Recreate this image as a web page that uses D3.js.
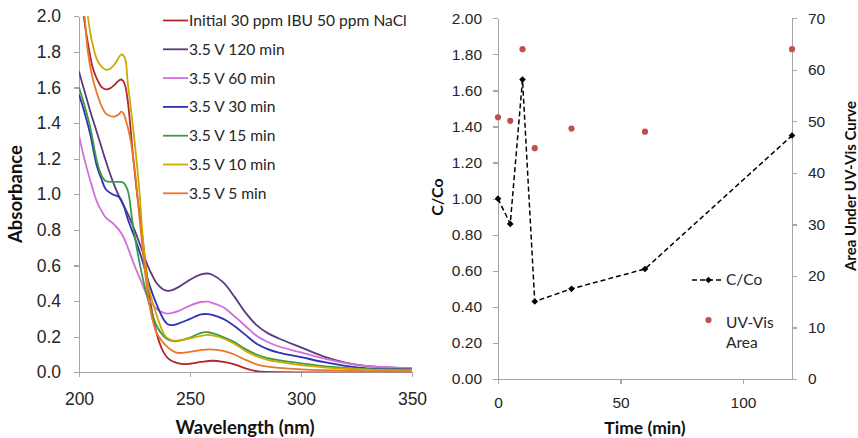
<!DOCTYPE html>
<html>
<head>
<meta charset="utf-8">
<script src="https://cdn.jsdelivr.net/npm/d3@7"></script>
<style>
  html, body { margin: 0; padding: 0; background: #fff; }
  svg { display: block; font-family: Lato, "Open Sans", sans-serif; }
  .axis path, .axis line { stroke: #a6a6a6; stroke-width: 1.2; shape-rendering: crispEdges; }
  .axis text { fill: #262626; }
</style>
</head>
<body>
<svg id="chart" width="858" height="438"></svg>
<script>
// ---- Absorbance spectra, [wavelength nm, absorbance] ----
const specInitial = [[200,2.45],[202,2.02],[204,1.85],[206,1.72],[208,1.65],[210,1.605],[212,1.59],[214,1.595],[216,1.615],[218,1.64],[219,1.645],[220,1.635],[221,1.60],[222,1.52],[223,1.40],[224,1.26],[226,1.02],[228,0.82],[230,0.61],[232,0.41],[234,0.27],[236,0.175],[238,0.115],[240,0.08],[243,0.057],[247,0.046],[250,0.048],[255,0.058],[260,0.065],[265,0.059],[270,0.045],[275,0.022],[280,0.006],[285,0.002],[290,0.001],[300,0],[350,0]];
const spec120 = [[200,1.69],[202,1.60],[205,1.47],[208,1.35],[210,1.27],[212,1.19],[215,1.08],[218,0.99],[220,0.94],[222,0.89],[225,0.80],[228,0.70],[230,0.63],[232,0.57],[235,0.50],[238,0.465],[240,0.458],[242,0.462],[245,0.48],[250,0.52],[255,0.55],[258,0.555],[260,0.548],[265,0.505],[270,0.425],[275,0.335],[280,0.265],[285,0.22],[290,0.19],[300,0.14],[310,0.09],[320,0.055],[330,0.035],[340,0.027],[350,0.022]];
const spec60 = [[200,1.33],[202,1.22],[205,1.08],[208,0.96],[210,0.91],[212,0.87],[215,0.84],[218,0.80],[220,0.76],[222,0.70],[225,0.60],[228,0.51],[230,0.45],[232,0.40],[235,0.355],[238,0.335],[240,0.33],[245,0.345],[250,0.375],[255,0.395],[258,0.397],[260,0.39],[265,0.365],[270,0.315],[275,0.26],[280,0.205],[285,0.17],[290,0.145],[300,0.112],[310,0.078],[320,0.052],[330,0.035],[340,0.028],[350,0.025]];
const spec30 = [[200,1.56],[202,1.48],[205,1.34],[208,1.16],[210,1.09],[212,1.03],[215,1.00],[218,0.985],[220,0.94],[222,0.86],[225,0.76],[228,0.65],[230,0.565],[232,0.48],[235,0.38],[238,0.30],[240,0.27],[242,0.265],[245,0.275],[250,0.30],[255,0.325],[258,0.327],[260,0.322],[265,0.30],[270,0.26],[275,0.21],[280,0.16],[285,0.13],[290,0.11],[300,0.085],[310,0.058],[320,0.036],[330,0.022],[340,0.017],[350,0.015]];
const spec15 = [[200,1.60],[202,1.52],[205,1.38],[208,1.19],[210,1.11],[212,1.075],[215,1.07],[218,1.07],[220,1.065],[222,1.02],[224,0.85],[226,0.70],[228,0.57],[230,0.46],[232,0.37],[235,0.26],[238,0.205],[240,0.185],[243,0.175],[245,0.178],[250,0.195],[255,0.222],[258,0.225],[260,0.22],[265,0.198],[270,0.17],[275,0.13],[280,0.10],[285,0.08],[290,0.068],[300,0.05],[310,0.035],[320,0.025],[330,0.018],[340,0.016],[350,0.015]];
const spec10 = [[200,2.6],[202,2.3],[204,2.0],[206,1.85],[208,1.76],[210,1.72],[212,1.70],[214,1.705],[216,1.73],[218,1.77],[219,1.785],[220,1.78],[221,1.75],[222,1.62],[223,1.52],[225,1.30],[227,1.05],[229,0.72],[231,0.50],[233,0.40],[235,0.32],[237,0.25],[239,0.20],[242,0.18],[245,0.178],[250,0.19],[255,0.205],[258,0.21],[260,0.207],[265,0.19],[270,0.16],[275,0.12],[280,0.09],[285,0.07],[290,0.058],[300,0.04],[310,0.028],[320,0.02],[330,0.015],[340,0.012],[350,0.01]];
const spec5 = [[200,2.5],[202,2.1],[204,1.80],[206,1.66],[208,1.57],[210,1.50],[212,1.455],[214,1.44],[216,1.436],[218,1.45],[219,1.464],[220,1.455],[221,1.42],[223,1.32],[225,1.15],[227,0.90],[229,0.65],[231,0.44],[233,0.30],[235,0.22],[238,0.165],[240,0.14],[244,0.11],[250,0.115],[255,0.125],[259,0.129],[265,0.12],[270,0.10],[275,0.07],[280,0.045],[285,0.032],[290,0.025],[300,0.017],[310,0.012],[320,0.009],[330,0.007],[340,0.006],[350,0.005]];

const seriesNames = ["Initial 30 ppm IBU 50 ppm NaCl","3.5 V 120 min","3.5 V 60 min","3.5 V 30 min","3.5 V 15 min","3.5 V 10 min","3.5 V 5 min"];
const seriesData = [specInitial, spec120, spec60, spec30, spec15, spec10, spec5];
const seriesColors = ["#b3262b","#5b3a80","#d070d8","#2e31b5","#3a9a48","#ccaa00","#e8782a"];

const wavelengthTicks = [200, 250, 300, 350];
const absorbanceTicks = [0, 0.2, 0.4, 0.6, 0.8, 1.0, 1.2, 1.4, 1.6, 1.8, 2.0];

// ---- Degradation over time ----
const timeMin = [0, 5, 10, 15, 30, 60, 120];
const cOverCo = [1.00, 0.86, 1.66, 0.43, 0.50, 0.61, 1.35];
const uvVisArea = [50.8, 50.1, 64.0, 44.8, 48.6, 48.0, 64.0];
const timeTicks = [0, 50, 100];
const ratioTicks = [0, 0.2, 0.4, 0.6, 0.8, 1.0, 1.2, 1.4, 1.6, 1.8, 2.0];
const areaTicks = [0, 10, 20, 30, 40, 50, 60, 70];

const svg = d3.select("#chart");

// ===== Left panel: spectra =====
const xW = d3.scaleLinear().domain([200, 350]).range([79, 412]);
const yA = d3.scaleLinear().domain([0, 2]).range([372.3, 16.3]);

svg.append("defs").append("clipPath").attr("id", "specClip")
  .append("rect").attr("x", xW.range()[0]).attr("y", yA.range()[1])
  .attr("width", xW.range()[1] - xW.range()[0] + 2)
  .attr("height", yA.range()[0] - yA.range()[1]);

const gLeft = svg.append("g");

gLeft.append("g").attr("class", "axis")
  .attr("transform", `translate(0,${yA(0)})`)
  .call(d3.axisBottom(xW).tickValues(wavelengthTicks).tickFormat(d3.format("d"))
    .tickSize(5).tickSizeOuter(0).tickPadding(15))
  .call(g => g.selectAll("text").attr("font-size", 17.5));

gLeft.append("g").attr("class", "axis")
  .attr("transform", `translate(${xW(200)},0)`)
  .call(d3.axisLeft(yA).tickValues(absorbanceTicks).tickFormat(d3.format(".1f"))
    .tickSize(5).tickSizeOuter(0).tickPadding(13))
  .call(g => g.selectAll("text").attr("font-size", 17.5));

const specLine = d3.line()
  .x(d => xW(d[0])).y(d => yA(d[1]))
  .curve(d3.curveCatmullRom.alpha(0.5));

gLeft.append("g").attr("clip-path", "url(#specClip)")
  .selectAll("path").data(seriesData).join("path")
  .attr("fill", "none")
  .attr("stroke", (d, i) => seriesColors[i])
  .attr("stroke-width", 1.8)
  .attr("d", specLine);

const legL = gLeft.append("g").selectAll("g").data(seriesNames).join("g")
  .attr("transform", (d, i) => `translate(163,${20.5 + i * 28.8})`);
legL.append("line").attr("x1", 0).attr("x2", 25)
  .attr("stroke", (d, i) => seriesColors[i]).attr("stroke-width", 1.8);
legL.append("text").attr("x", 26).attr("dy", "0.35em")
  .attr("font-size", 15.6).attr("fill", "#262626").text(d => d);

gLeft.append("text").attr("transform", "translate(22,194) rotate(-90)")
  .attr("text-anchor", "middle").attr("font-weight", "bold").attr("font-size", 18.5)
  .attr("fill", "#111").text("Absorbance");
gLeft.append("text").attr("x", 245).attr("y", 434)
  .attr("text-anchor", "middle").attr("font-weight", "bold").attr("font-size", 18.5)
  .attr("fill", "#111").text("Wavelength (nm)");

// ===== Right panel: C/Co and UV-Vis area =====
const xT = d3.scaleLinear().domain([0, 120]).range([498, 792]);
const yR = d3.scaleLinear().domain([0, 2]).range([379, 18.3]);
const yArea = d3.scaleLinear().domain([0, 70]).range([379, 18.3]);

const gRight = svg.append("g");

gRight.append("g").attr("class", "axis")
  .attr("transform", `translate(0,${yR(0)})`)
  .call(d3.axisBottom(xT).tickValues(timeTicks).tickFormat(d3.format("d"))
    .tickSize(5).tickSizeOuter(0).tickPadding(12.5))
  .call(g => g.selectAll("text").attr("font-size", 15.5));

gRight.append("g").attr("class", "axis")
  .attr("transform", `translate(${xT(0)},0)`)
  .call(d3.axisLeft(yR).tickValues(ratioTicks).tickFormat(d3.format(".2f"))
    .tickSize(5).tickSizeOuter(0).tickPadding(11))
  .call(g => g.selectAll("text").attr("font-size", 15.5));

gRight.append("g").attr("class", "axis")
  .attr("transform", `translate(${xT(120)},0)`)
  .call(d3.axisRight(yArea).tickValues(areaTicks).tickFormat(d3.format("d"))
    .tickSize(5).tickSizeOuter(0).tickPadding(11))
  .call(g => g.selectAll("text").attr("font-size", 15.5));

const ratioPts = timeMin.map((t, i) => [t, cOverCo[i]]);
const areaPts = timeMin.map((t, i) => [t, uvVisArea[i]]);

gRight.append("path").datum(ratioPts)
  .attr("fill", "none").attr("stroke", "#000").attr("stroke-width", 1.5)
  .attr("stroke-dasharray", "5,3")
  .attr("d", d3.line().x(d => xT(d[0])).y(d => yR(d[1])));

const diamond = d3.symbol(d3.symbolDiamond2, 28);
gRight.append("g").selectAll("path").data(ratioPts).join("path")
  .attr("transform", d => `translate(${xT(d[0])},${yR(d[1])})`)
  .attr("d", diamond).attr("fill", "#000");

gRight.append("g").selectAll("circle").data(areaPts).join("circle")
  .attr("cx", d => xT(d[0])).attr("cy", d => yArea(d[1]))
  .attr("r", 3.1).attr("fill", "#c0504d");

// legend
const legR = gRight.append("g");
legR.append("line").attr("x1", 692).attr("x2", 722).attr("y1", 280).attr("y2", 280)
  .attr("stroke", "#000").attr("stroke-width", 1.5).attr("stroke-dasharray", "5,3");
legR.append("path").attr("transform", "translate(708.5,280)").attr("d", diamond).attr("fill", "#000");
legR.append("text").attr("x", 726).attr("y", 280).attr("dy", "0.35em")
  .attr("font-size", 15.5).attr("fill", "#262626").text("C/Co");
legR.append("circle").attr("cx", 708.5).attr("cy", 320).attr("r", 3.1).attr("fill", "#c0504d");
legR.append("text").attr("x", 726).attr("y", 322.5).attr("dy", "0.35em")
  .attr("font-size", 15.5).attr("fill", "#262626").text("UV-Vis");
legR.append("text").attr("x", 726).attr("y", 342.5).attr("dy", "0.35em")
  .attr("font-size", 15.5).attr("fill", "#262626").text("Area");

gRight.append("text").attr("transform", "translate(443,197) rotate(-90)")
  .attr("text-anchor", "middle").attr("font-weight", "bold").attr("font-size", 16)
  .attr("fill", "#111").text("C/Co");
gRight.append("text").attr("transform", "translate(856,186) rotate(-90)")
  .attr("text-anchor", "middle").attr("font-weight", "bold").attr("font-size", 15)
  .attr("fill", "#111").text("Area Under UV-Vis Curve");
gRight.append("text").attr("x", 645).attr("y", 434)
  .attr("text-anchor", "middle").attr("font-weight", "bold").attr("font-size", 17.5)
  .attr("fill", "#111").text("Time (min)");
</script>
</body>
</html>
